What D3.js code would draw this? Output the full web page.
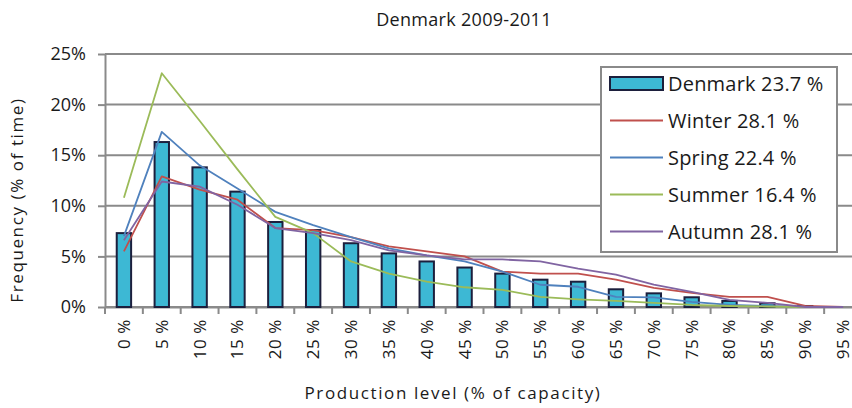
<!DOCTYPE html>
<html>
<head>
<meta charset="utf-8">
<script src="https://cdn.jsdelivr.net/npm/d3@7"></script>
<style>
  body { margin: 0; background: #fff; }
  svg { display: block; font-family: "Open Sans", sans-serif; }
</style>
</head>
<body>
<div id="chart"></div>
<script>
// Denmark 2009-2011 production level frequency (percent of time)
const categories = ["0 %", "5 %", "10 %", "15 %", "20 %", "25 %", "30 %", "35 %", "40 %", "45 %",
    "50 %", "55 %", "60 %", "65 %", "70 %", "75 %", "80 %", "85 %", "90 %", "95 %"];

const denmark = [7.3, 16.3, 13.8, 11.4, 8.4, 7.6, 6.3, 5.3, 4.5, 3.9, 3.3, 2.7, 2.5, 1.75, 1.35, 0.96, 0.6, 0.37, 0.1, 0];
const winter = [5.5, 12.9, 11.6, 10.6, 7.8, 7.6, 6.9, 6.0, 5.5, 5.0, 3.5, 3.3, 3.3, 2.7, 1.9, 1.4, 1.0, 1.0, 0.1, 0];
const spring = [7.0, 17.3, 14.0, 11.7, 9.4, 8.1, 6.9, 5.8, 5.1, 4.5, 3.5, 2.2, 2.0, 1.0, 0.95, 0.5, 0.2, 0.1, 0, 0];
const summer = [10.8, 23.1, 18.4, 13.6, 8.9, 7.3, 4.5, 3.3, 2.5, 1.95, 1.7, 1.0, 0.76, 0.6, 0.4, 0.2, 0.1, 0.05, 0, 0];
const autumn = [6.6, 12.4, 11.9, 10.1, 7.8, 7.3, 6.6, 5.6, 5.1, 4.7, 4.7, 4.5, 3.8, 3.2, 2.2, 1.5, 0.7, 0.4, 0, 0];

const yTicks = [0, 5, 10, 15, 20, 25];

const seriesLines = [
    { name: "Winter 28.1 %", values: winter, color: "#c0504d" },
    { name: "Spring 22.4 %", values: spring, color: "#4f81bd" },
    { name: "Summer 16.4 %", values: summer, color: "#9bbb59" },
    { name: "Autumn 28.1 %", values: autumn, color: "#8064a2" }
];

const barColor = "#3db8d4";
const barStroke = "#1c1f3d";
const gridColor = "#8a8a8a";
const textColor = "#1a1a1a";

const W = 852, H = 408;
const margin = { top: 54, left: 105 };
const plotW = 757, plotH = 253;

const svg = d3.select("#chart").append("svg")
    .attr("width", W)
    .attr("height", H);

const g = svg.append("g").attr("transform", `translate(${margin.left},${margin.top})`);

const x = d3.scaleBand().domain(categories).range([0, plotW]);
const y = d3.scaleLinear().domain([0, 25]).range([plotH, 0]);

// gridlines
g.selectAll(".grid").data(yTicks).enter().append("line")
    .attr("x1", 0).attr("x2", plotW)
    .attr("y1", d => y(d)).attr("y2", d => y(d))
    .attr("stroke", gridColor).attr("stroke-width", 2);

// y axis
const yAxis = g.append("g")
    .call(d3.axisLeft(y).tickValues(yTicks).tickFormat(d => d + "%").tickSize(7).tickSizeOuter(0).tickPadding(12));
yAxis.select(".domain").attr("stroke", gridColor).attr("stroke-width", 2);
yAxis.selectAll(".tick line").attr("stroke", gridColor).attr("stroke-width", 2);
yAxis.selectAll("text").attr("fill", textColor).style("font-size", "18px").style("font-family", "Open Sans");

// x axis with ticks at category boundaries
const xAxis = g.append("g").attr("transform", `translate(0,${plotH})`)
    .call(d3.axisBottom(x).tickSize(0).tickSizeOuter(0));
xAxis.select(".domain").attr("stroke", gridColor).attr("stroke-width", 2);
xAxis.selectAll("text")
    .attr("x", -12).attr("y", 0).attr("dy", "0.35em")
    .attr("transform", "rotate(-90)")
    .style("text-anchor", "end")
    .style("font-size", "17px")
    .style("font-family", "Open Sans")
    .style("letter-spacing", "0.6px")
    .attr("fill", textColor);

g.selectAll(".xtick").data(categories).enter().append("line")
    .attr("x1", d => x(d)).attr("x2", d => x(d))
    .attr("y1", plotH).attr("y2", plotH + 7)
    .attr("stroke", gridColor).attr("stroke-width", 2);

// bars
const barW = x.bandwidth() * 0.38;
g.selectAll(".bar").data(denmark).enter().append("rect")
    .attr("x", (d, i) => x(categories[i]) + x.bandwidth() / 2 - barW / 2)
    .attr("y", d => y(d))
    .attr("width", barW)
    .attr("height", d => plotH - y(d))
    .attr("fill", barColor)
    .attr("stroke", barStroke)
    .attr("stroke-width", 2);

// lines
const line = d3.line()
    .x((d, i) => x(categories[i]) + x.bandwidth() / 2)
    .y(d => y(d));

seriesLines.forEach(s => {
    g.append("path")
        .datum(s.values)
        .attr("fill", "none")
        .attr("stroke", s.color)
        .attr("stroke-width", 1.8)
        .attr("stroke-linejoin", "round")
        .attr("d", line);
});

// legend
const legend = svg.append("g").attr("transform", "translate(601,67)");
legend.append("rect")
    .attr("width", 236).attr("height", 185)
    .attr("fill", "#fff").attr("stroke", gridColor).attr("stroke-width", 2);

const legendItems = [{ name: "Denmark 23.7 %", bar: true }].concat(seriesLines);
legendItems.forEach((d, i) => {
    const cy = 16.5 + i * 37;
    if (d.bar) {
        legend.append("rect")
            .attr("x", 9).attr("y", cy - 6.5).attr("width", 53).attr("height", 13)
            .attr("fill", barColor).attr("stroke", barStroke).attr("stroke-width", 2);
    } else {
        legend.append("line")
            .attr("x1", 9).attr("x2", 62).attr("y1", cy).attr("y2", cy)
            .attr("stroke", d.color).attr("stroke-width", 1.8);
    }
    legend.append("text")
        .attr("x", 67).attr("y", cy).attr("dy", "0.36em")
        .attr("fill", textColor)
        .style("font-size", "20px")
        .style("letter-spacing", "0.2px")
        .text(d.name);
});

// titles
svg.append("text")
    .attr("x", 464).attr("y", 26)
    .attr("text-anchor", "middle")
    .attr("fill", textColor)
    .style("font-size", "18px")
    .style("letter-spacing", "0.3px")
    .text("Denmark 2009-2011");

svg.append("text")
    .attr("x", 453).attr("y", 399)
    .attr("text-anchor", "middle")
    .attr("fill", textColor)
    .style("font-size", "17px")
    .style("letter-spacing", "1.6px")
    .text("Production level (% of capacity)");

svg.append("text")
    .attr("transform", "translate(23,200) rotate(-90)")
    .attr("text-anchor", "middle")
    .attr("fill", textColor)
    .style("font-size", "17px")
    .style("letter-spacing", "1.6px")
    .text("Frequency (% of time)");
</script>
</body>
</html>
